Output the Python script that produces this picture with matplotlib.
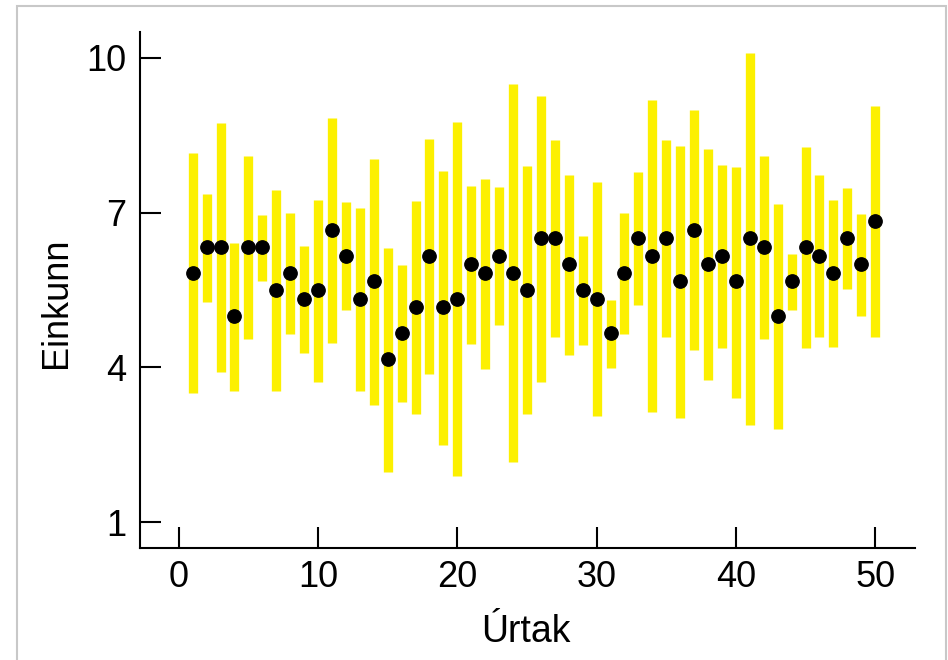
import numpy as np
import matplotlib.pyplot as plt
from matplotlib.patches import Rectangle

plt.rcParams['font.family'] = ['Liberation Sans', 'DejaVu Sans']

urtak = np.arange(1, 51)
einkunn = [35/6, 38/6, 38/6, 5.0, 38/6, 38/6, 5.5, 35/6, 32/6, 5.5,
           40/6, 37/6, 32/6, 34/6, 25/6, 28/6, 31/6, 37/6, 31/6, 32/6,
           6.0, 35/6, 37/6, 35/6, 5.5, 6.5, 6.5, 6.0, 5.5, 32/6,
           28/6, 35/6, 6.5, 37/6, 6.5, 34/6, 40/6, 6.0, 37/6, 34/6,
           6.5, 38/6, 5.0, 34/6, 38/6, 37/6, 35/6, 6.5, 6.0, 41/6]
efri = [8.15, 7.37, 8.73, 6.41, 8.09, 6.96, 7.43, 6.99, 6.36, 7.25,
        8.83, 7.20, 7.09, 8.03, 6.32, 5.98, 7.23, 8.42, 7.80, 8.76,
        7.51, 7.66, 7.49, 9.49, 7.90, 9.26, 8.40, 7.72, 6.54, 7.59,
        5.30, 6.99, 7.78, 9.18, 8.40, 8.30, 8.98, 8.23, 7.92, 7.89,
        10.10, 8.09, 7.16, 6.19, 8.27, 7.72, 7.25, 7.47, 6.97, 9.07]
nedri = [3.50, 5.27, 3.91, 3.55, 4.56, 5.68, 3.54, 4.65, 4.27, 3.72,
         4.48, 5.11, 3.55, 3.28, 1.98, 3.32, 3.09, 3.88, 2.50, 1.89,
         4.46, 3.97, 4.82, 2.16, 3.09, 3.72, 4.58, 4.25, 4.44, 3.05,
         3.99, 4.64, 5.21, 3.14, 4.58, 3.01, 4.33, 3.75, 4.38, 3.41,
         2.88, 4.56, 2.81, 5.12, 4.38, 4.59, 4.40, 5.51, 5.00, 4.59]

fig = plt.figure(figsize=(9.48, 6.6), dpi=100)
ax = fig.add_axes([0.1477, 0.1697, 0.8175, 0.7818])

ax.vlines(urtak, nedri, efri, colors='#fcf000', linewidth=6.7, capstyle='butt', zorder=2)
ax.plot(urtak, einkunn, 'o', color='black', markersize=9.6, zorder=3)

ax.set_xlim(-2.78, 52.86)
ax.set_ylim(0.5, 10.5)
ax.set_xticks([0, 10, 20, 30, 40, 50])
ax.set_yticks([1, 4, 7, 10])

ax.spines['top'].set_visible(False)
ax.spines['right'].set_visible(False)
for s in ['left', 'bottom']:
    ax.spines[s].set_linewidth(1.5)
ax.tick_params(direction='in', length=15, width=1.5, labelsize=26)
ax.tick_params(axis='x', pad=9)
ax.tick_params(axis='y', pad=10)

ax.set_xlabel('Úrtak', fontsize=27, va='baseline')
ax.set_ylabel('Einkunn', fontsize=26)
ax.xaxis.set_label_coords(0.498, -0.182)
ax.yaxis.set_label_coords(-0.085, 0.475)

# ljósgrár rammi utan um myndina
fig.patches.append(Rectangle((17/948, -0.05), 929/948, 1.05 - 6/660,
                             transform=fig.transFigure, fill=False,
                             edgecolor='#c8c8c8', linewidth=1.5))

fig.savefig('out.png', dpi=100)
